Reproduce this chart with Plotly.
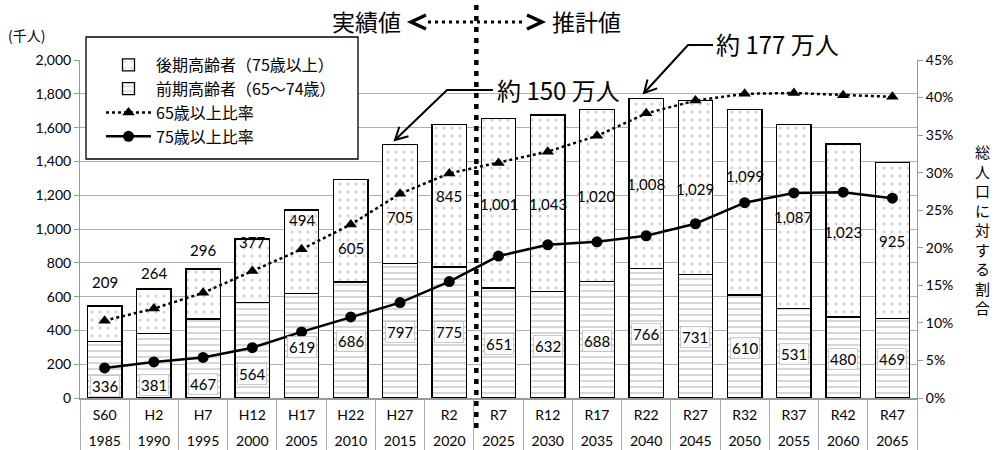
import math
import plotly.graph_objects as go

# ---------------- data ----------------
years = [1985, 1990, 1995, 2000, 2005, 2010, 2015, 2020, 2025, 2030,
         2035, 2040, 2045, 2050, 2055, 2060, 2065]
eras = ["S60", "H2", "H7", "H12", "H17", "H22", "H27", "R2", "R7", "R12",
        "R17", "R22", "R27", "R32", "R37", "R42", "R47"]
early = [336, 381, 467, 564, 619, 686, 797, 775, 651, 632, 688, 766, 731, 610, 531, 480, 469]
late = [209, 264, 296, 377, 494, 605, 705, 845, 1001, 1043, 1020, 1008, 1029, 1099, 1087, 1023, 925]
ratio65 = [10.3, 11.9, 14.0, 16.9, 19.8, 23.1, 27.2, 29.9, 31.3, 32.8, 34.9, 37.9, 39.6, 40.5, 40.6, 40.3, 40.1]
ratio75 = [4.0, 4.8, 5.4, 6.7, 8.8, 10.8, 12.7, 15.5, 18.9, 20.4, 20.8, 21.6, 23.2, 26.0, 27.3, 27.4, 26.6]

# label placement (pixel shifts, style only)
late_shift = [24, 16, 19, -3, -10, -68, -73, -72, -85, -89, -87, -86, -88, -67, -92, -88, -79]
early_shift = [12, 13, 14, 24, 51, 57, 66, 66, 54, 52, 57, 64, 61, 50, 44, 39, 39]

# ---------------- layout geometry ----------------
W, H = 994, 450
ML, MR, MT, MB = 80, 77, 60, 52
PW, PH = W - ML - MR, H - MT - MB
JP = "Noto Sans CJK JP"
NUM = "Lato, Noto Sans CJK JP"


def P(px, py):
    return (px - ML) / PW, (H - MB - py) / PH


xi = list(range(len(eras)))
totals = [a + b for a, b in zip(early, late)]

fig = go.Figure()

fig.add_trace(go.Bar(
    x=xi, y=early, name="前期高齢者（65～74歳）", width=0.7, legendrank=2,
    marker=dict(color="white", line=dict(color="black", width=1.3),
                pattern=dict(shape="-", fgcolor="#b0b0b0", bgcolor="white", size=6, solidity=0.35)),
    hoverinfo="skip"))
fig.add_trace(go.Bar(
    x=xi, y=late, name="後期高齢者（75歳以上）", width=0.7, legendrank=1,
    marker=dict(color="white", line=dict(color="black", width=1.3),
                pattern=dict(shape=".", fgcolor="#a8a8a8", bgcolor="white", size=8, solidity=0.12)),
    hoverinfo="skip"))
fig.add_trace(go.Scatter(
    x=xi, y=ratio65, name="65歳以上比率", yaxis="y2", mode="lines+markers", legendrank=3,
    line=dict(color="black", width=2.5, dash="dot"),
    marker=dict(symbol="triangle-up", size=11, color="black"), hoverinfo="skip"))
fig.add_trace(go.Scatter(
    x=xi, y=ratio75, name="75歳以上比率", yaxis="y2", mode="lines+markers", legendrank=4,
    line=dict(color="black", width=2.5),
    marker=dict(symbol="circle", size=11, color="black"), hoverinfo="skip"))
# helper trace for the year row axis
fig.add_trace(go.Scatter(x=xi, y=early, xaxis="x2", mode="markers",
                         marker=dict(opacity=0), showlegend=False, hoverinfo="skip"))

annotations = []
for i in xi:
    annotations.append(dict(x=i, y=totals[i], xref="x", yref="y", text=f"{late[i]:,}",
                            showarrow=False, yshift=late_shift[i],
                            font=dict(family=NUM, size=15, color="black")))
    annotations.append(dict(x=i, y=0, xref="x", yref="y", text=f"{early[i]:,}",
                            showarrow=False, yshift=early_shift[i],
                            bgcolor="rgba(255,255,255,0.8)", bordercolor="rgba(190,190,190,0.8)",
                            borderwidth=1, borderpad=1,
                            font=dict(family=NUM, size=15, color="black")))


def text_ann(px, py, text, size, family=JP):
    x, y = P(px, py)
    return dict(x=x, y=y, xref="paper", yref="paper", text=text, showarrow=False,
                xanchor="center", yanchor="middle", font=dict(family=family, size=size, color="black"))


annotations += [
    text_ann(366, 21, "実績値", 23),
    text_ann(586, 21, "推計値", 23),
    text_ann(558, 89, "約 150 万人", 24),
    text_ann(777, 44, "約 177 万人", 24),
    text_ann(26, 35, "(千人)", 14),
    text_ann(982, 229, "<br>".join("総人口に対する割合"), 15),
]

shapes = []


def seg_path(points):
    s = ""
    for j, (px, py) in enumerate(points):
        x, y = P(px, py)
        s += ("M" if j == 0 else "L") + f"{x:.5f},{y:.5f} "
    return s


def leader(points, L=14, ang=28):
    (tx, ty), (sx, sy) = points[-1], points[-2]
    d = math.hypot(sx - tx, sy - ty)
    ux, uy = (sx - tx) / d, (sy - ty) / d
    out = []
    for a in (ang, -ang):
        r = math.radians(a)
        vx = ux * math.cos(r) - uy * math.sin(r)
        vy = ux * math.sin(r) + uy * math.cos(r)
        out.append((tx + L * vx, ty + L * vy))
    shapes.append(dict(type="path", xref="paper", yref="paper", path=seg_path(points),
                       line=dict(color="black", width=2), layer="above"))
    shapes.append(dict(type="path", xref="paper", yref="paper",
                       path=seg_path([out[0], (tx, ty), out[1]]),
                       line=dict(color="black", width=2), layer="above"))


# legend box
lx0, ly0 = P(86, 37)
lx1, ly1 = P(358, 159)
shapes.append(dict(type="rect", xref="paper", yref="paper", x0=lx0, y0=ly1, x1=lx1, y1=ly0,
                   fillcolor="white", line=dict(color="black", width=1.3), layer="above"))

# vertical divider between actual and estimate
_, vb = P(0, 428)
_, vt = P(0, 3)
shapes.append(dict(type="line", xref="x", yref="paper", x0=7.55, x1=7.55, y0=vb, y1=vt,
                   line=dict(color="black", width=4.5, dash="5px,6px"), layer="above"))
# horizontal dotted arrow
a0x, a0y = P(428, 22)
a1x, _ = P(526, 22)
shapes.append(dict(type="line", xref="paper", yref="paper", x0=a0x, x1=a1x, y0=a0y, y1=a0y,
                   line=dict(color="black", width=3, dash="3px,4px"), layer="above"))
shapes.append(dict(type="path", xref="paper", yref="paper",
                   path=seg_path([(426, 15), (411, 22), (426, 29)]),
                   line=dict(color="black", width=3.5), layer="above"))
shapes.append(dict(type="path", xref="paper", yref="paper",
                   path=seg_path([(527, 15), (542, 22), (527, 29)]),
                   line=dict(color="black", width=3.5), layer="above"))

leader([(493, 90), (447, 90), (395, 140)])
leader([(713, 45), (688, 45), (644, 93)])

lgx, lgy = P(101, 48)

fig.update_layout(
    width=W, height=H,
    margin=dict(l=ML, r=MR, t=MT, b=MB, autoexpand=False),
    paper_bgcolor="white", plot_bgcolor="white",
    barmode="stack", bargap=0.3,
    showlegend=True,
    legend=dict(x=lgx, y=lgy, xanchor="left", yanchor="top", traceorder="normal",
                bgcolor="rgba(0,0,0,0)", borderwidth=0, itemwidth=45, tracegroupgap=0,
                font=dict(family=JP, size=16, color="black")),
    xaxis=dict(range=[-0.5, 16.5], tickmode="array", tickvals=xi, ticktext=eras,
               ticks="", showgrid=False, zeroline=False, automargin=False,
               showline=True, linecolor="#999", linewidth=1.5,
               ticklabelstandoff=3,
               tickfont=dict(family=NUM, size=14, color="black"),
               minor=dict(tickmode="array", tickvals=[i - 0.5 for i in range(len(eras) + 1)],
                          ticks="outside", ticklen=52, tickcolor="#aaa", tickwidth=1, showgrid=False)),
    xaxis2=dict(range=[-0.5, 16.5], overlaying="x", anchor="y", side="bottom",
                tickmode="array", tickvals=xi, ticktext=[str(y) for y in years],
                ticks="", showgrid=False, zeroline=False, showline=False, automargin=False,
                ticklabelstandoff=33,
                tickfont=dict(family=NUM, size=14, color="black")),
    yaxis=dict(range=[0, 2000], dtick=200, tickformat=",d", showgrid=True, gridcolor="#b0b0b0",
               gridwidth=1, zeroline=False, showline=True, linecolor="#999", linewidth=1,
               ticks="outside", ticklen=5, tickcolor="#999", automargin=False,
               tickfont=dict(family=NUM, size=14, color="black")),
    yaxis2=dict(range=[0, 45], dtick=5, ticksuffix="%", overlaying="y", side="right",
                showgrid=False, zeroline=False, showline=True, linecolor="#999", linewidth=1,
                ticks="outside", ticklen=5, tickcolor="#999", automargin=False,
                tickfont=dict(family=NUM, size=14, color="black")),
    annotations=annotations,
    shapes=shapes,
)

fig.write_html("out.html")
